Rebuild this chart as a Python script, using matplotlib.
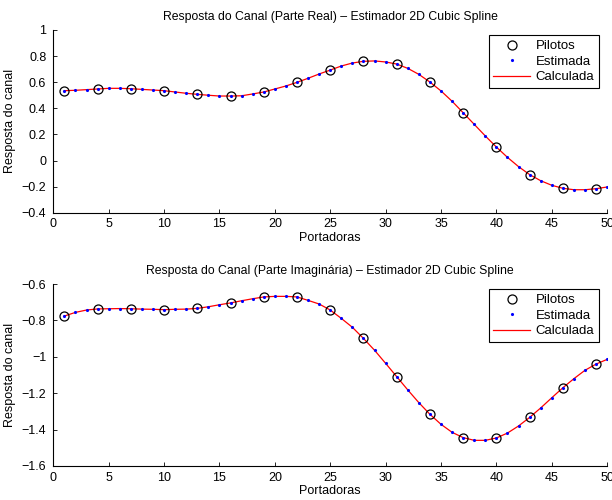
import matplotlib
matplotlib.use("Agg")
import matplotlib.pyplot as plt
import numpy as np

plt.rcParams['font.family'] = ['Liberation Sans', 'DejaVu Sans']
plt.rcParams['font.size'] = 9

portadoras = np.arange(1, 51)
pilot_idx = np.arange(1, 51, 3)  # 1, 4, ..., 49

# parte real
est_real = [0.535, 0.538, 0.543, 0.548, 0.553, 0.553, 0.550, 0.545, 0.540, 0.535,
            0.525, 0.515, 0.507, 0.500, 0.494, 0.494, 0.496, 0.510, 0.525, 0.548,
            0.571, 0.599, 0.630, 0.663, 0.693, 0.724, 0.747, 0.760, 0.763, 0.755,
            0.739, 0.706, 0.660, 0.601, 0.533, 0.454, 0.366, 0.277, 0.188, 0.103,
            0.024, -0.047, -0.108, -0.155, -0.190, -0.213, -0.224, -0.224, -0.216, -0.203]
calc_real = list(est_real)
pil_real = [0.535, 0.548, 0.550, 0.535, 0.507, 0.494, 0.525, 0.599, 0.693,
            0.760, 0.739, 0.601, 0.366, 0.103, -0.108, -0.213, -0.216]

# parte imaginaria
est_imag = [-0.776, -0.756, -0.743, -0.737, -0.736, -0.735, -0.736, -0.738, -0.739, -0.741,
            -0.739, -0.738, -0.734, -0.725, -0.714, -0.704, -0.692, -0.681, -0.671, -0.668,
            -0.668, -0.671, -0.690, -0.710, -0.743, -0.789, -0.838, -0.899, -0.964, -1.036,
            -1.109, -1.182, -1.252, -1.316, -1.371, -1.415, -1.444, -1.459, -1.459, -1.446,
            -1.419, -1.380, -1.333, -1.281, -1.225, -1.170, -1.120, -1.074, -1.040, -1.014]
calc_imag = list(est_imag)
pil_imag = [-0.776, -0.737, -0.736, -0.741, -0.734, -0.704, -0.671, -0.671, -0.743,
            -0.899, -1.109, -1.316, -1.444, -1.446, -1.333, -1.170, -1.040]

fig = plt.figure(figsize=(6.12, 5.0), dpi=100)
ax1 = fig.add_axes([0.0871, 0.5746, 0.905, 0.3654])
ax2 = fig.add_axes([0.0871, 0.068, 0.905, 0.364])

panels = [
    (ax1, pil_real, est_real, calc_real, 'Resposta do Canal (Parte Real) \u2013 Estimador 2D Cubic Spline',
     (-0.4, 1.0), np.arange(-0.4, 1.01, 0.2)),
    (ax2, pil_imag, est_imag, calc_imag, 'Resposta do Canal (Parte Imagin\u00e1ria) \u2013 Estimador 2D Cubic Spline',
     (-1.6, -0.6), np.arange(-1.6, -0.59, 0.2)),
]

for ax, pil, est, calc, title, ylim, yt in panels:
    ax.plot(pilot_idx, pil, 'o', mfc='none', mec='black', ms=6.5, mew=0.9, label='Pilotos', zorder=3)
    ax.plot(portadoras, est, '.', color='blue', ms=2.5, label='Estimada', zorder=4)
    ax.plot(portadoras, calc, '-', color='red', lw=0.9, label='Calculada', zorder=2)
    ax.set_xlim(0, 50)
    ax.set_ylim(*ylim)
    ax.set_xticks(np.arange(0, 51, 5))
    ax.set_yticks(yt)
    ax.set_yticklabels([('%g' % round(v, 1)).replace('-', '\u2212') for v in yt])
    ax.spines['top'].set_visible(False)
    ax.spines['right'].set_visible(False)
    ax.tick_params(direction='in', length=3, width=0.6)
    ax.tick_params(axis='x', pad=4)
    ax.tick_params(axis='y', pad=5)
    for s in ['left', 'bottom']:
        ax.spines[s].set_linewidth(0.8)
    ax.set_title(title, fontsize=8.8, pad=7)
    ax.set_xlabel('Portadoras', labelpad=1)
    ax.set_ylabel('Resposta do canal', labelpad=4)
    leg = ax.legend(loc='upper right', bbox_to_anchor=(0.985, 0.97), fancybox=False,
                    framealpha=1, edgecolor='black', fontsize=9.5, borderpad=0.35,
                    labelspacing=0.25, handlelength=2.8, handletextpad=0.4, borderaxespad=0)
    leg.get_frame().set_linewidth(0.8)

fig.savefig('out.png', dpi=100)
